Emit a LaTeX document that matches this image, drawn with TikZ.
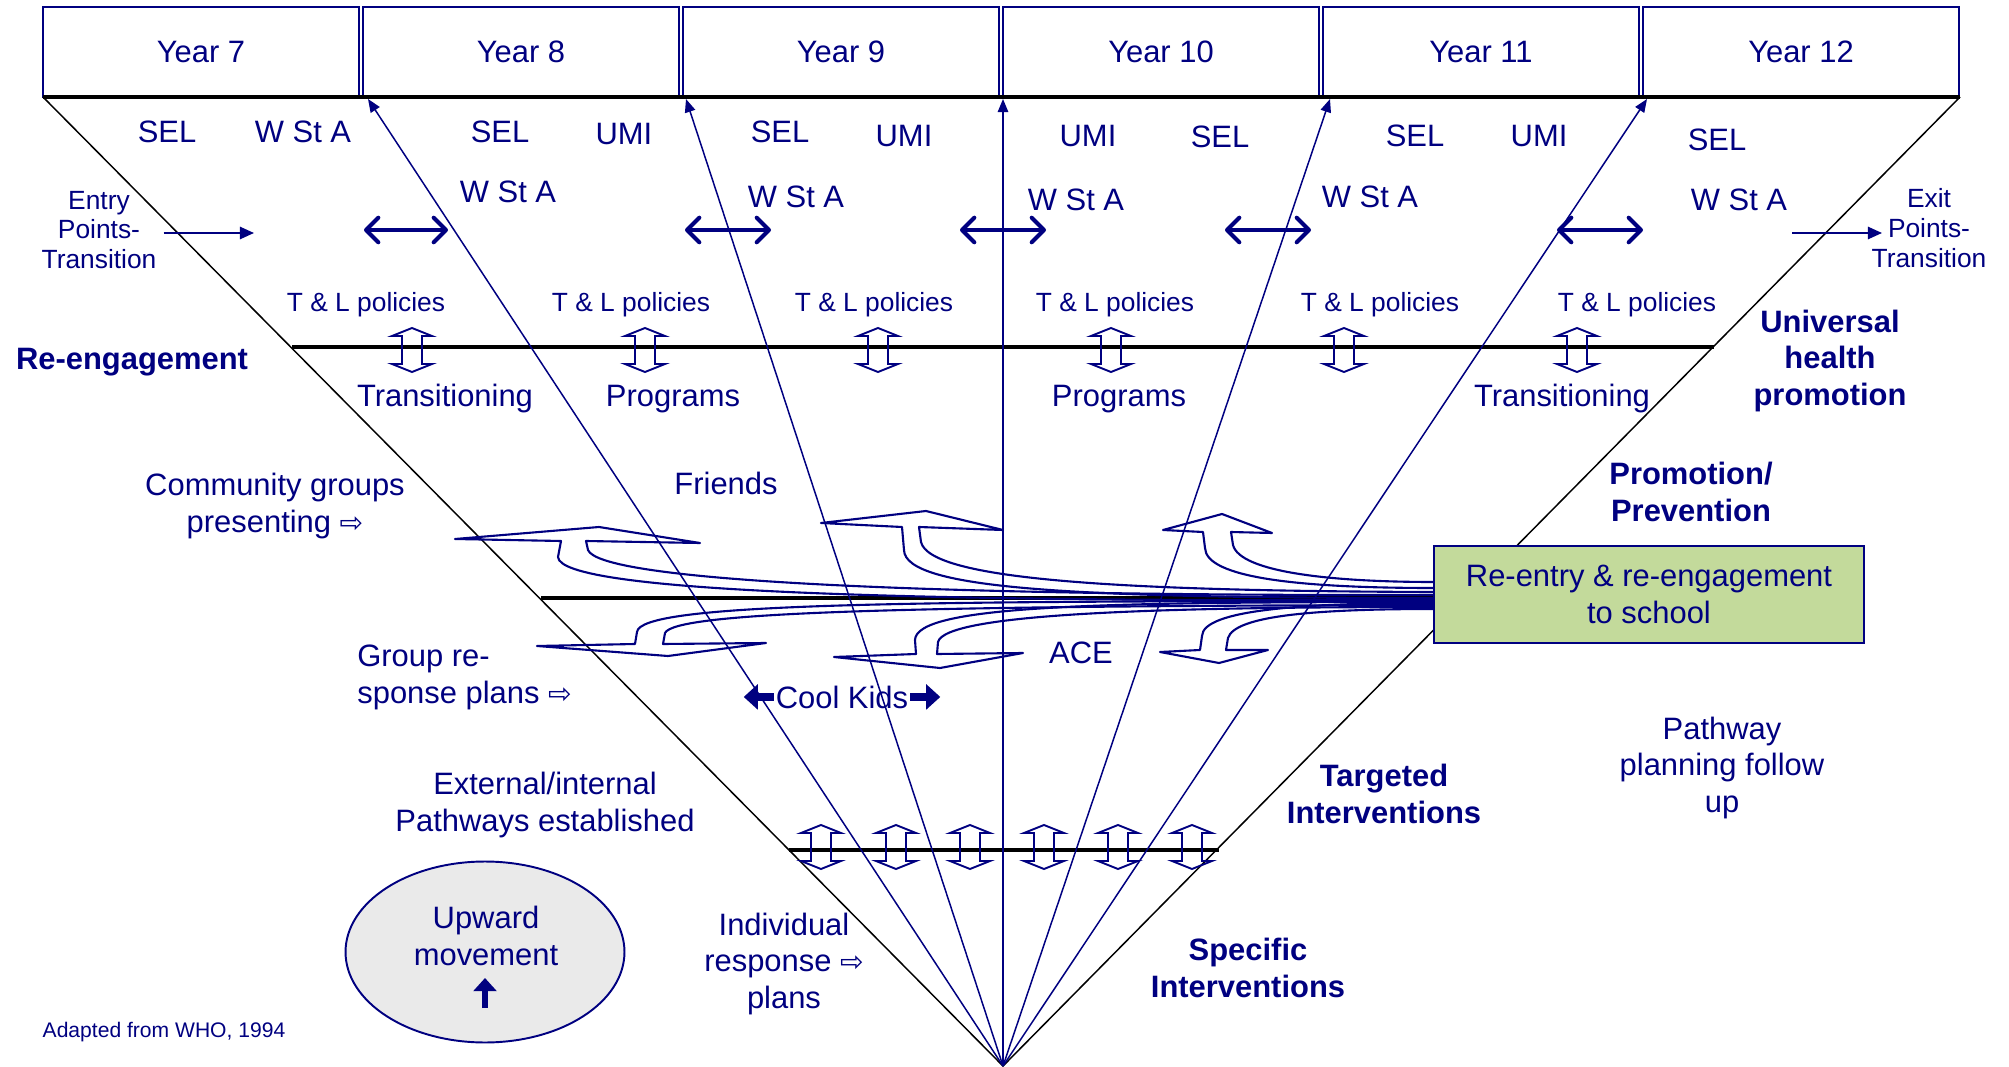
\documentclass[tikz,border=0pt]{standalone}
\usepackage{fontspec}
\setmainfont{Liberation Sans}
\newfontfamily\symfont{DejaVu Sans}
\usetikzlibrary{arrows.meta,shapes.geometric}

\definecolor{dkblue}{RGB}{0,0,128}
\definecolor{paleGreen}{RGB}{195,218,155}
\definecolor{paleGray}{RGB}{234,234,234}
\newcommand{\hollowright}{{\symfont\fontsize{16}{16}\selectfont ⇨}}

\tikzset{
  lbl/.style={text=dkblue, inner sep=0pt, font=\fontsize{17.6}{21}\selectfont},
  smalllbl/.style={lbl, font=\fontsize{15}{17}\selectfont},
  boldlbl/.style={lbl, font=\fontsize{17.6}{21}\selectfont\bfseries},
  yearbox/.style={lbl, draw=dkblue, line width=1.1pt, minimum width=6.32cm, minimum height=1.8cm},
  fanline/.style={dkblue, line width=0.85pt, -{Triangle[length=7.5pt,width=6pt]}},
  funnel/.style={black, line width=0.85pt},
  levelbar/.style={black, line width=2.3pt},
  moveboth/.style={dkblue, line width=2.3pt, {Straight Barb[length=7pt,width=14pt,round]}-{Straight Barb[length=7pt,width=14pt,round]}},
  hollowarrow/.style={dkblue, line width=1.1pt},
  curvearrow/.style={dkblue, line width=1.2pt, line join=round},
  thinarrow/.style={dkblue, line width=1pt, -{Triangle[length=8pt,width=7pt]}},
  fatarrow/.style={dkblue, line width=3.4pt, -{Triangle[length=7.5pt,width=13pt]}},
  kidsarrow/.style={dkblue, line width=4.2pt, -{Triangle[length=8pt,width=14pt]}}
}

\begin{document}
\begin{tikzpicture}[x=0.02cm, y=-0.02cm]
\useasboundingbox (0,0) rectangle (2009,1067);

% Year boxes
\foreach \n [count=\i from 0] in {7,...,12}
  \node[yearbox] (year\n) at ({201+320*\i},52) {Year \n};

% Funnel
\coordinate (tl) at (43,97);
\coordinate (tr) at (1960,97);
\coordinate (apex) at (1003,1066);
\draw[funnel] (tl) -- (apex) -- (tr);

% Levels
\draw[levelbar, line width=1.8pt] (tl) -- (tr);
\draw[levelbar] (292,347) -- (1714,347);
\draw[levelbar] (541,598) -- (1434,598);
\draw[levelbar] (789,850) -- (1219,850);

% Year lines from the apex
\foreach \x [count=\i] in {368,686,1003,1330,1647} {
  \coordinate (top\i) at (\x,99);
  \draw[fanline] (apex) -- (top\i);
}

% Moving between years
\foreach \a/\b in {364/448,685/771,960/1046,1225/1311,1557/1643}
  \draw[moveboth] (\a,230) -- (\b,230);

% Upper labels
\node[lbl, anchor=base] (sel7) at (167,143) {SEL};
\node[lbl, anchor=base] (wsta7) at (303,143) {W St A};
\node[lbl, anchor=base] (sel8) at (500,143) {SEL};
\node[lbl, anchor=base] (umi8) at (624,145) {UMI};
\node[lbl, anchor=base] (wsta8) at (508,203) {W St A};
\node[lbl, anchor=base] (sel9) at (780,143) {SEL};
\node[lbl, anchor=base] (umi9) at (904,147) {UMI};
\node[lbl, anchor=base] (wsta9) at (796,208) {W St A};
\node[lbl, anchor=base] (umi10) at (1088,147) {UMI};
\node[lbl, anchor=base] (sel10) at (1220,148) {SEL};
\node[lbl, anchor=base] (wsta10) at (1076,211) {W St A};
\node[lbl, anchor=base] (sel11) at (1415,147) {SEL};
\node[lbl, anchor=base] (umi11) at (1539,147) {UMI};
\node[lbl, anchor=base] (wsta11) at (1370,208) {W St A};
\node[lbl, anchor=base] (sel12) at (1717,151) {SEL};
\node[lbl, anchor=base] (wsta12) at (1739,211) {W St A};

% Entry and exit
\node[smalllbl, align=center] (entry) at (99,230) {Entry\\Points-\\Transition};
\coordinate (entryhead) at (254,233);
\draw[thinarrow] (entry.east |- entryhead) ++(7,0) -- (entryhead);
\node[smalllbl, align=center] (exit) at (1929,228) {Exit\\Points-\\Transition};
\coordinate (exittail) at (1792,233);
\coordinate (exithead) at (1882,233);
\draw[thinarrow] (exittail) -- (exithead);

% Teaching and learning policies
\foreach \x [count=\i] in {366,631,874,1115,1380,1637}
  \node[smalllbl, anchor=base] (tl\i) at (\x,312) {T \& L policies};

% Hollow up/down arrows on the levels
\foreach \x/\y in {412/350,645/350,878/350,1111/350,1344/350,1577/350,
                   821/847,896/847,970/847,1044/847,1118/847,1192/847}
  \draw[hollowarrow, shift={(\x,\y)}] (-10,-14) -- (-20,-14) -- (0,-22) -- (20,-14)
    -- (10,-14) -- (10,14) -- (20,14) -- (0,22) -- (-20,14) -- (-10,14) -- cycle;

\node[boldlbl, anchor=base] (reeng) at (132,370) {Re-engagement};
\node[lbl, anchor=base] (trans1) at (445,407) {Transitioning};
\node[lbl, anchor=base] (prog1) at (673,407) {Programs};
\node[lbl, anchor=base] (prog2) at (1119,407) {Programs};
\node[lbl, anchor=base] (trans2) at (1562,407) {Transitioning};
\node[boldlbl, align=center] (universal) at (1830,361) {Universal\\health\\promotion};

% Middle labels
\node[lbl, align=center] (community) at (275,506) {Community groups\\presenting \hollowright};
\node[lbl, anchor=base] (friends) at (726,495) {Friends};
\node[boldlbl, align=center] (promotion) at (1691,492) {Promotion/\\Prevention};

% Curved arrows out of re-entry
\draw[curvearrow] (1434,600) .. controls (900,602) and (560,592) .. (558,557) -- (561,541)
  -- (455,539) -- (599,527) -- (700,543) -- (586,541) -- (588,550)
  .. controls (600,580) and (900,596) .. (1434,595);
\draw[curvearrow] (1434,598) .. controls (1080,598) and (905,590) .. (904,550) -- (902,527)
  -- (821,523) -- (926,511) -- (1003,530) -- (919,527) -- (921,542)
  .. controls (930,580) and (1120,591) .. (1434,592);
\draw[curvearrow] (1434,588) .. controls (1300,588) and (1206,578) .. (1205,548) -- (1203,532)
  -- (1163,530) -- (1222,514) -- (1272,533) -- (1231,532) -- (1233,545)
  .. controls (1240,572) and (1330,582) .. (1434,582);
\draw[curvearrow] (1434,601) .. controls (900,601) and (640,603) .. (637,632) -- (635,644)
  -- (537,646) -- (668,656) -- (766,643) -- (663,644) -- (665,633)
  .. controls (675,612) and (900,606) .. (1434,605);
\draw[curvearrow] (1434,602) .. controls (1100,602) and (916,605) .. (915,640) -- (916,654)
  -- (834,657) -- (940,668) -- (1023,653) -- (937,654) -- (938,642)
  .. controls (945,614) and (1150,607) .. (1434,607);
\draw[curvearrow] (1434,603) .. controls (1300,603) and (1203,610) .. (1202,636) -- (1200,650)
  -- (1160,652) -- (1219,663) -- (1268,650) -- (1226,650) -- (1228,638)
  .. controls (1235,615) and (1320,609) .. (1434,609);

\node[lbl, draw=dkblue, line width=1.2pt, fill=paleGreen, minimum width=8.6cm,
  minimum height=1.94cm, align=center] (reentry) at (1649,594.5)
  {Re-entry \& re-engagement\\to school};

% Lower labels
\node[lbl, align=left, anchor=west] (group) at (357,677) {Group re-\\sponse plans \hollowright};
\node[lbl, anchor=base] (ace) at (1081,663) {ACE};
\node[lbl, anchor=base] (coolkids) at (842,708) {Cool Kids};
\draw[kidsarrow] ([xshift=-1pt]coolkids.west) -- ++(-30,0);
\draw[kidsarrow] ([xshift=1pt]coolkids.east) -- ++(30,0);
\node[lbl, align=center] (pathway) at (1722,768) {Pathway\\planning follow\\up};
\node[boldlbl, align=center] (targeted) at (1384,794) {Targeted\\Interventions};
\node[lbl, align=center] (external) at (545,805) {External/internal\\Pathways established};

% Upward movement
\node[ellipse, draw=dkblue, line width=1.1pt, fill=paleGray, minimum width=5.58cm,
  minimum height=3.62cm] (oval) at (485,952) {};
\node[lbl, align=center] (upward) at (486,936) {Upward\\movement};
\coordinate (upbase) at (485,1008);
\coordinate (uptip) at (485,978);
\draw[fatarrow] (upbase) -- (uptip);

\node[lbl, align=center] (individual) at (784,964) {Individual\\response \hollowright\\plans};
\node[boldlbl, align=center] (specific) at (1248,968) {Specific\\Interventions};
\node[lbl, anchor=base, font=\fontsize{12}{14}\selectfont] (adapted) at (164,1037) {Adapted from WHO, 1994};
\end{tikzpicture}
\end{document}
